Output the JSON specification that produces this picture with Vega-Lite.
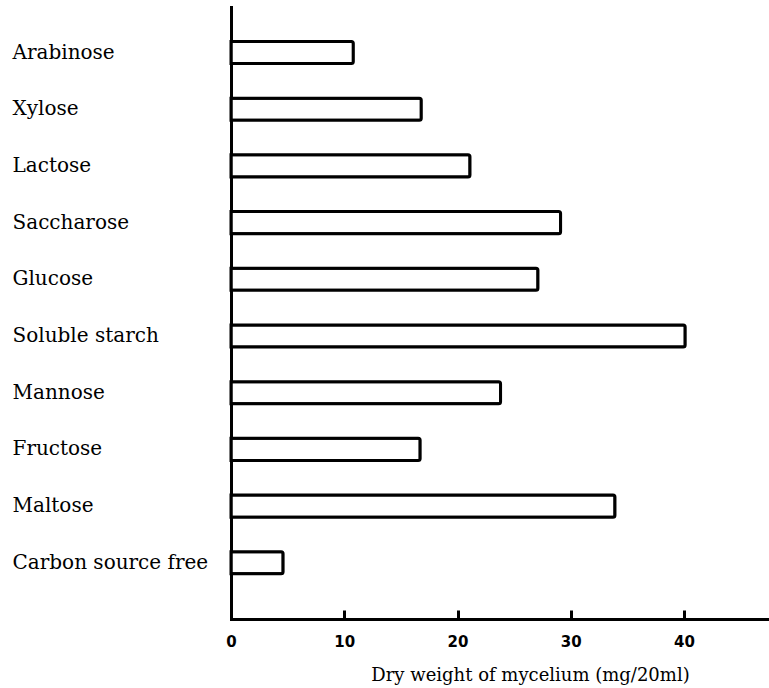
{
  "$schema": "https://vega.github.io/schema/vega-lite/v6.json",
  "width": 538,
  "height": 612,
  "autosize": {"type": "none"},
  "padding": {"left": 231, "top": 7, "right": 0, "bottom": 69},
  "background": "white",
  "config": {
    "view": {"stroke": null},
    "axis": {"grid": false, "domainColor": "black", "domainWidth": 3, "domainCap": "square", "labelColor": "black", "titleColor": "black", "tickColor": "black"}
  },
  "data": {
    "values": [
      {"source": "Arabinose", "weight": 10.8},
      {"source": "Xylose", "weight": 16.8},
      {"source": "Lactose", "weight": 21.1},
      {"source": "Saccharose", "weight": 29.1},
      {"source": "Glucose", "weight": 27.1},
      {"source": "Soluble starch", "weight": 40.1},
      {"source": "Mannose", "weight": 23.8},
      {"source": "Fructose", "weight": 16.7},
      {"source": "Maltose", "weight": 33.9},
      {"source": "Carbon source free", "weight": 4.6}
    ]
  },
  "encoding": {
    "y": {
      "field": "source",
      "type": "nominal",
      "sort": null,
      "scale": {"paddingInner": 0.61, "paddingOuter": 0.702, "align": 0.433},
      "axis": {
        "title": null,
        "ticks": false,
        "labelAlign": "left",
        "labelPadding": 219,
        "labelLimit": 300,
        "labelFont": "DejaVu Serif",
        "labelFontSize": 20
      }
    }
  },
  "layer": [
    {
      "mark": {"type": "bar", "fill": "white", "stroke": "black", "strokeWidth": 3, "cornerRadiusEnd": 2},
      "encoding": {
        "x": {
          "field": "weight",
          "type": "quantitative",
          "scale": {"domain": [0, 47.5], "nice": false},
          "axis": {
            "values": [0, 10, 20, 30, 40],
            "ticks": false,
            "labelFlush": false,
            "labelFont": "DejaVu Sans",
            "labelFontWeight": "bold",
            "labelFontSize": 15,
            "labelPadding": 15,
            "labelBaseline": "top",
            "title": "Dry weight of mycelium (mg/20ml)",
            "titleFont": "DejaVu Serif",
            "titleFontSize": 18,
            "titleFontWeight": "normal",
            "titleAnchor": "start",
            "titleAlign": "center",
            "titleX": 299,
            "titleY": 61,
            "titleBaseline": "alphabetic"
          }
        }
      }
    },
    {
      "mark": {"type": "bar", "opacity": 0},
      "encoding": {
        "x": {
          "field": "weight",
          "type": "quantitative",
          "scale": {"domain": [0, 47.5], "nice": false},
          "axis": {
            "orient": "bottom",
            "offset": -9,
            "values": [10, 20, 30, 40],
            "domain": false,
            "labels": false,
            "title": null,
            "tickSize": 9,
            "tickWidth": 3
          }
        }
      }
    }
  ],
  "resolve": {"axis": {"x": "independent"}}
}
